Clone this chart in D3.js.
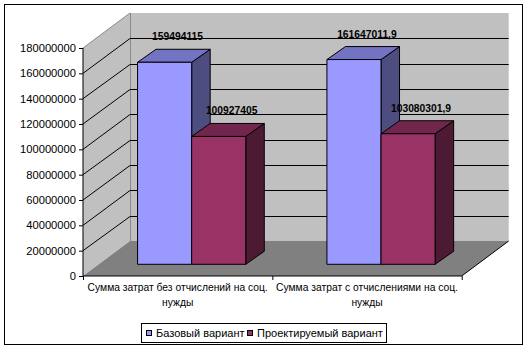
<!DOCTYPE html>
<html>
<head>
<meta charset="utf-8">
<script src="https://d3js.org/d3.v7.min.js"></script>
<style>
    body { margin: 0; background: #fff; }
    text { font-family: Arial, "Liberation Sans", sans-serif; }
</style>
</head>
<body>
<div id="chart"></div>
<script>
    // chart data
    var categories = ["Сумма затрат без отчислений на соц. нужды", "Сумма затрат с отчислениями на соц. нужды"];
    var catLines = [["Сумма затрат без отчислений на соц.", "нужды"], ["Сумма затрат с отчислениями на соц.", "нужды"]];
    var seriesNames = ["Базовый вариант", "Проектируемый вариант"];
    var baseValues = [159494115, 161647011.9];
    var projValues = [100927405, 103080301.9];
    var yTicks = [0, 20000000, 40000000, 60000000, 80000000, 100000000, 120000000, 140000000, 160000000, 180000000];

    var width = 529, height = 351;
    var svg = d3.select("#chart").append("svg")
        .attr("width", width).attr("height", height);

    // outer frame
    svg.append("rect")
        .attr("x", 4.5).attr("y", 4.5)
        .attr("width", 518).attr("height", 340)
        .attr("fill", "#fff").attr("stroke", "#000");

    var depth = {dx: 47, dy: -35};       // wall depth
    var barFront = {dx: 14, dy: -11.7};  // bar front offset from front plane
    var barDepth = {dx: 18.5, dy: -13};  // bar thickness

    var x0 = d3.scaleBand().domain(categories).range([83, 461.7]);
    var x1 = d3.scaleBand().domain(seriesNames)
        .range([0, x0.bandwidth()]).paddingOuter(0.75);
    var y = d3.scaleLinear().domain([0, 180000000]).range([276, 48]);

    var colors = {
        "Базовый вариант": {front: "#9999ff", side: "#4d4d80", top: "#7373c4"},
        "Проектируемый вариант": {front: "#993366", side: "#4c1a33", top: "#73264d"}
    };

    var xl = x0.range()[0], xr = x0.range()[1];
    var pts = function (arr) { return arr.map(function (p) { return p.join(","); }).join(" "); };

    // walls
    svg.append("polygon") // back wall
        .attr("points", pts([[xl + depth.dx, y(180000000) + depth.dy], [xr + depth.dx, y(180000000) + depth.dy],
            [xr + depth.dx, y(0) + depth.dy], [xl + depth.dx, y(0) + depth.dy]]))
        .attr("fill", "#c0c0c0");
    svg.append("polygon") // side wall
        .attr("points", pts([[xl, y(180000000)], [xl + depth.dx, y(180000000) + depth.dy],
            [xl + depth.dx, y(0) + depth.dy], [xl, y(0)]]))
        .attr("fill", "#c0c0c0");
    svg.append("polygon") // floor
        .attr("points", pts([[xl, y(0)], [xl + depth.dx, y(0) + depth.dy],
            [xr + depth.dx, y(0) + depth.dy], [xr, y(0)]]))
        .attr("fill", "#808080");

    // wall edges
    svg.append("line")
        .attr("x1", xl + depth.dx + 0.5).attr("x2", xl + depth.dx + 0.5)
        .attr("y1", y(180000000) + depth.dy).attr("y2", y(0) + depth.dy)
        .attr("stroke", "#8a8a8a");
    svg.append("line")
        .attr("x1", xl).attr("y1", y(180000000))
        .attr("x2", xl + depth.dx).attr("y2", y(180000000) + depth.dy)
        .attr("stroke", "#8a8a8a");
    svg.append("line")
        .attr("x1", xr).attr("y1", y(0))
        .attr("x2", xr + depth.dx).attr("y2", y(0) + depth.dy)
        .attr("stroke", "#000");

    // gridlines
    var grid = yTicks.filter(function (t) { return t > 0 && t < 180000000; });
    var g = svg.append("g").attr("fill", "none").attr("stroke", "#000");
    grid.forEach(function (t) {
        g.append("polyline")
            .attr("points", pts([[xl, y(t)], [xl + depth.dx, Math.round(y(t) + depth.dy) + 0.5],
                [xr + depth.dx, Math.round(y(t) + depth.dy) + 0.5]]));
    });

    // bars
    var data = [];
    categories.forEach(function (c, i) {
        data.push({cat: c, s: seriesNames[0], v: baseValues[i]});
        data.push({cat: c, s: seriesNames[1], v: projValues[i]});
    });

    var bars = svg.append("g").attr("stroke", "#000").attr("stroke-width", 1).attr("stroke-linejoin", "round");
    data.forEach(function (d) {
        var left = x0(d.cat) + x1(d.s) + barFront.dx;
        var right = left + x1.bandwidth();
        var top = y(d.v) + barFront.dy;
        var bottom = y(0) + barFront.dy;
        var c = colors[d.s];
        bars.append("polygon")
            .attr("points", pts([[right, top], [right + barDepth.dx, top + barDepth.dy],
                [right + barDepth.dx, bottom + barDepth.dy], [right, bottom]]))
            .attr("fill", c.side);
        bars.append("polygon")
            .attr("points", pts([[left, top], [left + barDepth.dx, top + barDepth.dy],
                [right + barDepth.dx, top + barDepth.dy], [right, top]]))
            .attr("fill", c.top);
        bars.append("rect")
            .attr("x", left).attr("y", top)
            .attr("width", right - left).attr("height", bottom - top)
            .attr("fill", c.front);

        svg.append("text")
            .attr("x", (left + right) / 2 + barDepth.dx * 0.7)
            .attr("y", top + barDepth.dy - 9)
            .attr("text-anchor", "middle")
            .attr("font-size", "10.3px")
            .attr("font-weight", "bold")
            .attr("fill", "#000")
            .text(String(d.v).replace(".", ","));
    });

    // y axis
    var yAxis = d3.axisLeft(y).tickValues(yTicks).tickSize(4).tickFormat(d3.format("d"));
    var ya = svg.append("g").attr("transform", "translate(" + xl + ",0)").call(yAxis);
    ya.select(".domain").attr("d", "M0," + y(180000000) + "V" + y(0));
    ya.selectAll("text").attr("font-size", "11.2px").attr("fill", "#000")
        .style("font-family", "Arial, 'Liberation Sans', sans-serif");

    // x axis
    var xa = svg.append("g").attr("transform", "translate(0," + y(0) + ")");
    xa.append("line").attr("x1", xl).attr("x2", xr).attr("stroke", "#000");
    x0.range().concat([x0(categories[1])]).forEach(function (t) {
        xa.append("line").attr("x1", t + 0.5).attr("x2", t + 0.5).attr("y1", 0).attr("y2", 4).attr("stroke", "#000");
    });
    categories.forEach(function (c, i) {
        var t = xa.append("text")
            .attr("x", x0(c) + x0.bandwidth() / 2)
            .attr("y", 15)
            .attr("text-anchor", "middle")
            .attr("font-size", "10.3px")
            .attr("fill", "#000");
        catLines[i].forEach(function (line, k) {
            t.append("tspan").attr("x", x0(c) + x0.bandwidth() / 2).attr("dy", k ? 15 : 0).text(line);
        });
    });

    // legend
    var lg = svg.append("g").attr("transform", "translate(141,323)");
    lg.append("rect").attr("x", 0.5).attr("y", 0.5).attr("width", 245).attr("height", 19)
        .attr("fill", "#fff").attr("stroke", "#000");
    var legendX = [5, 106];
    seriesNames.forEach(function (s, i) {
        lg.append("rect").attr("x", legendX[i] + 0.5).attr("y", 7.5).attr("width", 5).attr("height", 5)
            .attr("fill", colors[s].front).attr("stroke", "#000");
        lg.append("text").attr("x", legendX[i] + 10).attr("y", 14)
            .attr("font-size", "11px").attr("fill", "#000").text(s);
    });
</script>
</body>
</html>
